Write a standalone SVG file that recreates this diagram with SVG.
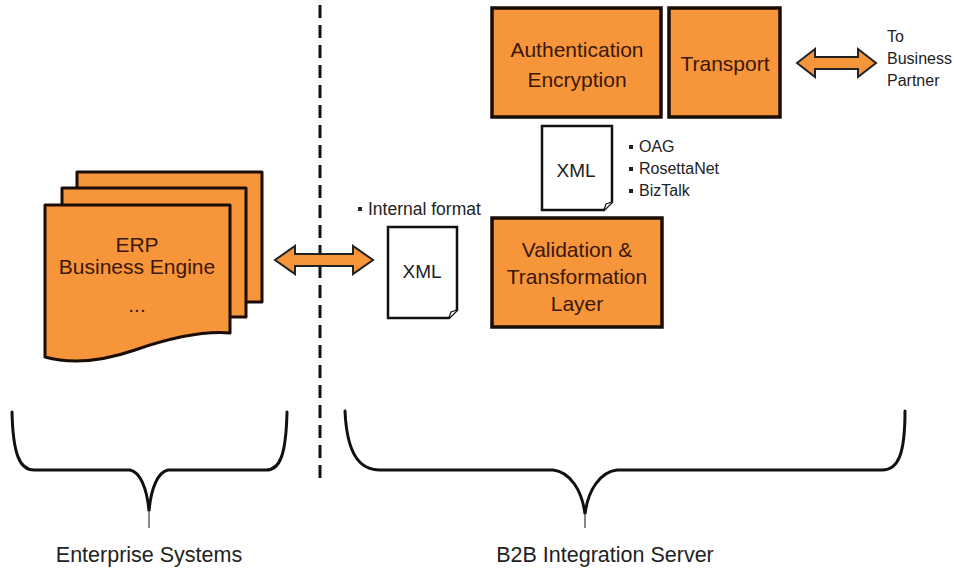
<svg xmlns="http://www.w3.org/2000/svg" width="954" height="572" viewBox="0 0 954 572">
  <style>
    .box { fill: #F7953A; stroke: #1a0c06; stroke-width: 3.5; }
    .page { fill: #F7953A; stroke: #1a0c06; stroke-width: 3; stroke-linejoin: round; }
    .doc { fill: #ffffff; stroke: #111; stroke-width: 2.5; }
    .fold { fill: #ffffff; stroke: #111; stroke-width: 1.2; }
    .arrow { fill: #F7953A; stroke: #222; stroke-width: 2; stroke-linejoin: miter; }
    .brace { fill: none; stroke: #111; stroke-width: 3; stroke-linecap: round; }
    .sep { stroke: #111; stroke-width: 3; stroke-dasharray: 13 7; }
    .t { font-family: "Liberation Sans", Arial, sans-serif; text-anchor: middle; }
    .big { font-size: 21px; fill: #3a170b; }
    .xml { font-size: 19px; fill: #222; }
    .note { font-size: 16px; fill: #222; font-family: "Liberation Sans", Arial, sans-serif; }
    .label { font-size: 21.5px; fill: #222; }
  </style>

  <!-- tier separator -->
  <line class="sep" x1="320" y1="5" x2="320" y2="478"/>

  <!-- ERP business engine: stacked documents -->
  <g id="erp">
    <rect class="page" x="77" y="172" width="185" height="130"/>
    <rect class="page" x="62" y="188" width="184" height="129"/>
    <path class="page" d="M45,205 H230 V333 C205,331 170,338 135,350 C100,362 70,364 45,357 Z"/>
    <text class="t big" x="137" y="252">ERP</text>
    <text class="t big" x="137" y="274">Business Engine</text>
    <text class="t big" x="137" y="312">...</text>
  </g>

  <!-- internal-format XML document -->
  <g id="xml-internal">
    <path class="doc" d="M388,227 H457 V310 L449,318 H388 Z"/>
    <path class="fold" d="M449,318 L451,312 L457,310"/>
    <text class="t xml" x="422" y="278">XML</text>
    <rect x="358" y="207" width="4" height="4" fill="#222"/>
    <text class="note" x="368" y="215" style="font-size:17.5px">Internal format</text>
  </g>

  <!-- standards XML document -->
  <g id="xml-standard">
    <path class="doc" d="M542,126 H612 V202 L604,210 H542 Z"/>
    <path class="fold" d="M604,210 L606,204 L612,202"/>
    <text class="t xml" x="576" y="177">XML</text>
    <rect x="629" y="145" width="4" height="4" fill="#222"/>
    <text class="note" x="639" y="152">OAG</text>
    <rect x="629" y="167" width="4" height="4" fill="#222"/>
    <text class="note" x="639" y="174">RosettaNet</text>
    <rect x="629" y="189" width="4" height="4" fill="#222"/>
    <text class="note" x="639" y="196">BizTalk</text>
  </g>

  <g id="validation">
    <rect class="box" x="492" y="218" width="170" height="109"/>
    <text class="t big" x="577" y="257">Validation &amp;</text>
    <text class="t big" x="577" y="284">Transformation</text>
    <text class="t big" x="577" y="311">Layer</text>
  </g>

  <g id="auth">
    <rect class="box" x="492" y="8" width="169" height="109"/>
    <text class="t big" x="577" y="57">Authentication</text>
    <text class="t big" x="577" y="87">Encryption</text>
  </g>

  <g id="transport">
    <rect class="box" x="669" y="8" width="111" height="109"/>
    <text class="t big" x="725" y="71">Transport</text>
  </g>

  <g id="partner">
    <text class="note" x="887" y="42">To</text>
    <text class="note" x="887" y="64">Business</text>
    <text class="note" x="887" y="86">Partner</text>
  </g>

  <!-- connectors -->
  <g id="connectors">
    <path class="arrow" d="M275,260 L295,246 L295,254 L353,254 L353,246 L373,260 L353,274 L353,266 L295,266 L295,274 Z"/>
    <path class="arrow" d="M797,63 L815,49 L815,57 L858,57 L858,49 L876,63 L858,77 L858,69 L815,69 L815,77 Z"/>
  </g>

  <!-- grouping braces -->
  <g id="brace-enterprise">
    <path class="brace" d="M12,412 C13,455 20,470 34,470 L130,470 C140,472 147,488 149,511 C151,488 158,472 168,470 L266,470 C280,470 286,455 287,412"/>
    <line x1="149" y1="511" x2="149" y2="528" stroke="#111" stroke-width="1"/>
    <text class="t label" x="149" y="562">Enterprise Systems</text>
  </g>
  <g id="brace-b2b">
    <path class="brace" d="M345,411 C347,455 360,470 380,470 L553,470 C570,472 582,490 585,514 C588,490 600,472 617,470 L882,470 C898,470 905,455 905,411"/>
    <line x1="585" y1="514" x2="585" y2="528" stroke="#111" stroke-width="1"/>
    <text class="t label" x="605" y="562">B2B Integration Server</text>
  </g>
</svg>
